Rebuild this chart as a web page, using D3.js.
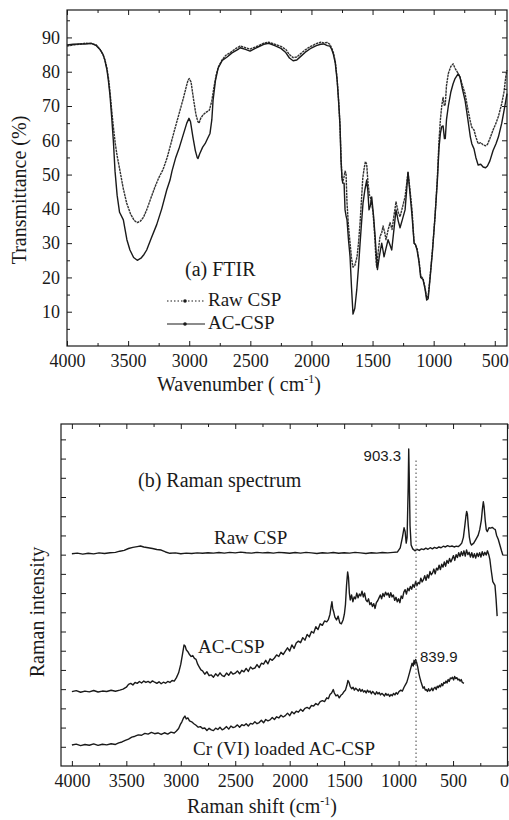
<!DOCTYPE html>
<html>
<head>
<meta charset="utf-8">
<script src="https://cdn.jsdelivr.net/npm/d3@7"></script>
<style>
  body { margin: 0; background: #fff; }
  svg text { font-family: "Liberation Serif", "Times New Roman", serif; fill: #1a1a1a; }
</style>
</head>
<body>
<svg id="chart" width="509" height="820"></svg>
<script>
// ---- FTIR data: [wavenumber cm-1, transmittance %] ----
const ftirRaw = [[4000,87.5],[3950,87.8],[3900,88.0],[3850,88.3],[3800,88.2],[3760,87.8],[3730,86.5],[3705,85],[3690,83.5],[3673,81],[3660,78],[3648,74],[3635,69],[3621,64],[3605,59],[3590,55.5],[3566,51],[3540,46],[3512,41.7],[3480,38.5],[3450,36.6],[3425,36],[3400,36.4],[3375,37.5],[3348,39.7],[3315,43],[3280,46.4],[3250,49],[3214,51.5],[3180,55],[3150,59],[3120,63],[3085,67.5],[3050,72],[3025,75.5],[3010,77.5],[3000,78],[2985,77],[2965,72],[2945,67.5],[2930,65.5],[2920,65],[2905,66.5],[2885,67.5],[2860,68.2],[2835,68.8],[2815,71.5],[2800,75],[2780,79],[2760,81.5],[2730,83.5],[2700,84.8],[2666,85.5],[2630,86.5],[2584,87.5],[2540,87],[2502,86.6],[2460,87.2],[2420,87.8],[2390,88.3],[2350,88.6],[2300,88],[2250,87.4],[2210,86.5],[2180,85],[2150,84.1],[2120,84.3],[2090,85.2],[2050,86.4],[2010,87.3],[1960,88.2],[1925,88.6],[1900,88.4],[1870,88.5],[1850,88],[1835,87],[1820,85.5],[1805,83],[1790,78],[1780,73],[1772,68],[1766,64],[1758,55],[1750,49],[1744,48],[1735,49],[1725,51],[1717,50.4],[1709,41.7],[1697,35],[1684,30],[1672,25.5],[1660,23],[1645,23.5],[1627,26],[1615,30],[1602,36],[1590,43],[1580,49],[1568,52],[1558,53.8],[1548,53],[1537,47.5],[1525,44],[1512,42.6],[1496,39],[1482,32],[1472,25],[1466,23],[1455,27],[1439,32],[1425,33],[1414,35],[1400,33],[1390,31],[1375,33.5],[1357,36],[1340,34],[1325,38],[1308,42],[1290,39],[1275,37.7],[1255,40.5],[1234,43.5],[1222,47],[1210,50.7],[1195,46],[1177,39.7],[1160,30],[1150,29.5],[1136,28.5],[1120,25],[1106,20.5],[1087,19.6],[1070,17],[1057,14],[1045,14.5],[1030,20],[1010,28],[989,37.7],[970,49],[956,60],[945,66],[934,70],[923,72.5],[912,70],[905,70.5],[895,76],[880,79.5],[860,81.5],[841,82.3],[825,81],[805,79.8],[785,78.5],[765,76],[743,73.6],[720,69],[700,65.5],[688,63.8],[670,63],[655,61],[636,59],[615,59.3],[595,58.7],[575,58.4],[560,58.8],[540,60.5],[514,63],[490,65],[470,67],[443,70.7],[425,74],[410,78.5],[400,80.5]];

const ftirAC = [[4000,87.8],[3950,88.0],[3900,88.1],[3850,88.1],[3800,88.3],[3760,87.6],[3730,86.5],[3705,85],[3690,83.3],[3673,80.5],[3660,77],[3648,73],[3635,67],[3621,60],[3607,51],[3590,44],[3570,39],[3539,36.8],[3510,31],[3485,28],[3455,25.8],[3425,25],[3395,25.6],[3370,26.7],[3348,28],[3310,31.5],[3266,35.4],[3225,40],[3184,45.5],[3157,48.4],[3141,51],[3110,55],[3080,58],[3050,61.5],[3020,65],[3002,66.4],[2990,65.5],[2970,61],[2950,57],[2935,55],[2928,54.7],[2915,56],[2890,58],[2870,59],[2850,60.5],[2830,62],[2815,66],[2805,71.6],[2785,77.5],[2764,81],[2730,83.3],[2690,84.3],[2650,85.5],[2600,86.5],[2584,87],[2540,86.5],[2502,86],[2460,86.8],[2420,87.5],[2390,88],[2350,88.3],[2300,87.6],[2250,86.8],[2210,85.6],[2180,84],[2150,83.2],[2120,83.4],[2090,84.4],[2050,85.7],[2010,86.7],[1960,87.6],[1925,88],[1900,88.1],[1870,87.6],[1850,87.5],[1835,86.6],[1820,85],[1805,82.5],[1790,77.5],[1780,72.5],[1772,68],[1766,64],[1758,54],[1750,49],[1744,47.5],[1733,47.5],[1725,39.7],[1717,38],[1709,36.8],[1697,31],[1684,26],[1672,17],[1660,9.3],[1645,11],[1629,16.5],[1615,23],[1602,30],[1590,36],[1578,41.7],[1563,45.5],[1548,48.4],[1538,45],[1529,39.7],[1518,41],[1507,43.5],[1492,38],[1479,32],[1470,27],[1460,22.3],[1445,26],[1425,30],[1415,28],[1406,26],[1390,28.5],[1373,31],[1358,29.5],[1343,28],[1325,34],[1308,39.7],[1290,36.5],[1275,34.5],[1255,37],[1234,39.7],[1222,45],[1210,50.7],[1195,45],[1177,38],[1160,30],[1150,29.7],[1136,28],[1120,24.5],[1106,20],[1087,19.4],[1070,16.5],[1057,13.4],[1045,13.8],[1030,19.5],[1010,27.5],[989,37.7],[970,48],[956,58],[945,62],[934,64],[923,64.2],[912,60.5],[905,60.5],[895,66],[880,70],[860,74],[841,76.5],[825,78],[800,79.4],[785,78.5],[765,75],[743,71.6],[720,66],[700,61],[688,59],[670,57.5],[655,55],[636,52.8],[615,53],[595,52.2],[575,52],[560,52.5],[540,54],[514,57],[490,59],[470,61],[443,65],[425,68.5],[410,71.5],[400,73.6]];

// ---- Raman data: [shift cm-1, intensity (offset, a.u.)] ----
const ramanRaw = [[4000,11.05],[3950,11.08],[3900,11.03],[3850,11.07],[3800,11.04],[3750,11.09],[3700,11.06],[3650,11.1],[3600,11.12],[3560,11.18],[3520,11.22],[3480,11.32],[3440,11.38],[3400,11.42],[3370,11.45],[3340,11.4],[3300,11.36],[3260,11.32],[3220,11.27],[3180,11.24],[3140,11.14],[3100,11.07],[3050,11.09],[3000,11.05],[2950,11.08],[2900,11.06],[2850,11.09],[2800,11.07],[2750,11.1],[2700,11.08],[2650,11.11],[2600,11.08],[2550,11.12],[2500,11.09],[2450,11.13],[2400,11.1],[2350,11.08],[2300,11.12],[2250,11.09],[2200,11.11],[2150,11.08],[2100,11.12],[2050,11.1],[2000,11.07],[1950,11.11],[1900,11.08],[1850,11.12],[1800,11.09],[1750,11.06],[1700,11.1],[1650,11.08],[1600,11.11],[1550,11.07],[1500,11.1],[1450,11.08],[1400,11.12],[1350,11.09],[1300,11.06],[1250,11.1],[1200,11.08],[1150,11.11],[1100,11.09],[1050,11.12],[1010,11.14],[985,11.35],[965,11.9],[950,12.4],[940,12.2],[930,11.6],[922,11.9],[912,14.5],[907,16.5],[902,15.0],[895,12.5],[885,11.5],[870,11.3],[850,11.2],[830,11.28],[810,11.22],[790,11.3],[770,11.26],[750,11.34],[730,11.28],[710,11.36],[690,11.3],[670,11.38],[650,11.33],[630,11.4],[610,11.36],[590,11.44],[570,11.4],[550,11.47],[530,11.42],[510,11.45],[490,11.4],[470,11.44],[450,11.42],[435,11.5],[420,11.6],[405,11.9],[392,12.5],[382,13.0],[375,13.25],[368,13.1],[360,12.5],[350,11.9],[340,11.6],[330,11.5],[310,11.6],[290,11.8],[270,12.0],[255,12.3],[240,12.8],[230,13.4],[222,13.75],[215,13.5],[205,12.8],[195,12.3],[185,12.2],[170,12.4],[155,12.38],[140,12.42],[125,12.35],[112,12.3],[100,12.0],[85,11.8],[70,11.5],[55,11.2],[43,10.98]];

const ramanAC = [[4000,3.87],[3960,3.92],[3920,3.84],[3880,3.9],[3840,3.86],[3800,3.93],[3760,3.85],[3720,3.9],[3680,3.88],[3640,3.94],[3600,3.89],[3560,3.95],[3530,4.0],[3500,4.1],[3480,4.25],[3460,4.3],[3440,4.22],[3420,4.35],[3400,4.3],[3380,4.4],[3360,4.32],[3340,4.42],[3320,4.35],[3300,4.4],[3280,4.33],[3260,4.43],[3240,4.36],[3220,4.3],[3200,4.38],[3180,4.28],[3160,4.36],[3140,4.31],[3120,4.4],[3100,4.35],[3080,4.45],[3060,4.42],[3040,4.6],[3020,4.85],[3000,5.3],[2985,5.8],[2970,6.3],[2960,6.25],[2950,6.05],[2935,5.95],[2920,5.8],[2905,5.7],[2890,5.75],[2875,5.6],[2860,5.55],[2845,5.3],[2830,5.15],[2815,5.0],[2800,4.95],[2780,4.78],[2760,4.9],[2740,4.7],[2720,4.74],[2700,4.62],[2680,4.8],[2660,4.68],[2640,4.85],[2620,4.7],[2600,4.66],[2580,4.84],[2560,4.72],[2540,4.9],[2520,4.78],[2500,4.83],[2480,4.95],[2460,4.8],[2440,4.98],[2420,4.9],[2400,5.08],[2380,4.92],[2360,5.15],[2340,5.05],[2320,5.1],[2300,5.28],[2280,5.12],[2260,5.35],[2240,5.3],[2220,5.5],[2200,5.32],[2180,5.58],[2160,5.5],[2140,5.62],[2120,5.78],[2100,5.7],[2080,5.92],[2060,5.8],[2040,5.98],[2020,6.15],[2000,5.98],[1980,6.3],[1960,6.12],[1940,6.4],[1920,6.5],[1900,6.42],[1880,6.68],[1860,6.55],[1840,6.85],[1820,6.72],[1800,7.0],[1780,6.92],[1760,7.25],[1740,7.1],[1720,7.4],[1700,7.32],[1680,7.55],[1660,7.5],[1645,7.62],[1630,7.9],[1620,8.3],[1612,8.55],[1605,8.2],[1595,8.0],[1585,7.75],[1570,7.6],[1555,7.8],[1540,7.45],[1525,7.4],[1510,7.6],[1498,7.9],[1488,8.4],[1478,9.4],[1468,10.1],[1460,9.8],[1452,9.0],[1444,8.64],[1432,8.9],[1420,8.55],[1408,8.8],[1396,8.7],[1384,9.0],[1372,8.75],[1360,8.95],[1348,8.85],[1336,9.1],[1324,8.8],[1312,9.0],[1300,8.65],[1288,8.55],[1276,8.7],[1264,8.4],[1252,8.5],[1240,8.3],[1228,8.45],[1216,8.2],[1204,8.5],[1192,8.6],[1180,8.75],[1168,8.9],[1156,8.7],[1144,8.98],[1132,8.82],[1120,9.05],[1108,8.9],[1096,9.0],[1084,8.78],[1072,9.02],[1060,8.8],[1048,8.9],[1036,8.62],[1024,8.78],[1012,8.55],[1000,8.7],[988,8.5],[976,8.85],[964,8.72],[952,9.05],[940,9.18],[928,8.95],[916,9.25],[904,9.12],[892,9.35],[880,9.2],[868,9.45],[856,9.3],[844,9.6],[832,9.38],[820,9.55],[808,9.48],[796,9.78],[784,9.58],[772,9.7],[760,9.9],[748,9.66],[736,9.95],[724,9.78],[712,10.12],[700,9.95],[688,10.05],[676,10.25],[664,10.0],[652,10.3],[640,10.2],[628,10.45],[616,10.22],[604,10.5],[592,10.35],[580,10.62],[568,10.4],[556,10.7],[544,10.55],[532,10.8],[520,10.62],[508,10.78],[496,10.95],[484,10.7],[472,11.0],[460,10.85],[448,11.1],[436,10.9],[424,11.15],[412,10.95],[400,11.2],[388,10.92],[376,11.25],[364,11.0],[352,11.12],[340,10.88],[328,11.1],[316,10.85],[304,11.05],[292,10.82],[280,11.08],[268,10.9],[256,11.1],[244,10.88],[232,11.15],[220,10.95],[208,11.12],[196,10.98],[184,11.2],[172,11.0],[162,10.75],[150,10.2],[135,9.6],[115,9.4],[105,8.7],[95,7.8]];

const ramanCr = [[4000,1.09],[3960,1.14],[3920,1.06],[3880,1.12],[3840,1.08],[3800,1.15],[3760,1.07],[3720,1.13],[3680,1.1],[3640,1.16],[3600,1.12],[3570,1.2],[3540,1.25],[3510,1.33],[3480,1.4],[3450,1.5],[3420,1.55],[3390,1.62],[3360,1.6],[3330,1.7],[3300,1.66],[3270,1.75],[3240,1.68],[3210,1.72],[3180,1.64],[3150,1.73],[3120,1.66],[3090,1.76],[3060,1.72],[3040,1.82],[3020,1.95],[3005,2.15],[2990,2.3],[2975,2.5],[2962,2.6],[2950,2.45],[2935,2.5],[2920,2.35],[2900,2.3],[2880,2.2],[2860,2.12],[2840,2.02],[2820,2.05],[2800,1.95],[2780,1.98],[2760,1.85],[2740,1.96],[2720,1.88],[2700,1.84],[2680,1.97],[2660,1.9],[2640,2.02],[2620,1.88],[2600,1.95],[2580,2.05],[2560,1.92],[2540,2.08],[2520,2.0],[2500,2.04],[2480,2.14],[2460,2.02],[2440,2.15],[2420,2.1],[2400,2.2],[2380,2.08],[2360,2.22],[2340,2.18],[2320,2.3],[2300,2.2],[2280,2.26],[2260,2.38],[2240,2.25],[2220,2.42],[2200,2.35],[2180,2.4],[2160,2.52],[2140,2.42],[2120,2.56],[2100,2.5],[2080,2.64],[2060,2.55],[2040,2.62],[2020,2.75],[2000,2.62],[1980,2.82],[1960,2.72],[1940,2.85],[1920,2.8],[1900,2.95],[1880,2.85],[1860,3.0],[1840,3.05],[1820,2.98],[1800,3.15],[1780,3.12],[1760,3.25],[1740,3.18],[1720,3.35],[1700,3.4],[1680,3.35],[1660,3.55],[1645,3.5],[1630,3.72],[1615,3.8],[1600,3.98],[1590,3.8],[1575,3.65],[1560,3.7],[1545,3.55],[1530,3.68],[1515,3.75],[1500,3.88],[1488,3.95],[1475,4.2],[1465,4.45],[1455,4.35],[1445,4.15],[1430,4.02],[1418,4.1],[1406,3.95],[1394,4.05],[1382,3.98],[1370,3.9],[1358,4.02],[1346,3.88],[1334,3.98],[1322,3.85],[1310,3.92],[1298,3.8],[1286,3.95],[1274,3.84],[1262,3.9],[1250,3.76],[1238,3.88],[1226,3.8],[1214,3.72],[1202,3.86],[1190,3.75],[1178,3.82],[1166,3.7],[1154,3.78],[1142,3.72],[1130,3.64],[1118,3.78],[1106,3.68],[1094,3.74],[1082,3.62],[1070,3.72],[1058,3.66],[1046,3.78],[1034,3.7],[1022,3.82],[1010,3.74],[998,3.86],[980,3.95],[965,3.9],[950,4.1],[938,4.22],[925,4.35],[912,4.6],[900,4.85],[888,5.1],[876,5.35],[866,5.2],[858,5.5],[850,5.3],[843,5.55],[835,5.4],[825,5.17],[815,4.85],[805,4.6],[795,4.4],[785,4.22],[775,4.05],[765,4.12],[755,3.95],[745,3.98],[735,3.88],[725,4.02],[715,3.9],[705,3.96],[695,4.06],[685,3.92],[675,4.05],[665,4.1],[655,3.98],[645,4.15],[635,4.08],[625,4.2],[615,4.12],[605,4.28],[595,4.18],[585,4.35],[575,4.3],[565,4.42],[555,4.32],[545,4.5],[535,4.4],[525,4.58],[515,4.55],[505,4.62],[495,4.48],[485,4.66],[475,4.55],[465,4.6],[455,4.48],[445,4.52],[435,4.42],[425,4.5],[415,4.35],[400,4.3]];

// ---- Ticks ----
const ftirXMajor = [4000, 3500, 3000, 2500, 2000, 1500, 1000, 500];
const ftirXMinor = [3750, 3250, 2750, 2250, 1750, 1250, 750];
const ftirYMajor = [10, 20, 30, 40, 50, 60, 70, 80, 90];
const ftirYMinor = [5, 15, 25, 35, 45, 55, 65, 75, 85, 95];
const ramanXMajor = [4000, 3500, 3000, 2500, 2000, 1500, 1000, 500, 0];
const ramanXMinor = [3750, 3250, 2750, 2250, 1750, 1250, 750, 250];
const ramanYTicks = [1, 2, 3, 4, 5, 6, 7, 8, 9, 10, 11, 12, 13, 14, 15, 16, 17];

// ---- Labels ----
const ftirSeries = ["Raw CSP", "AC-CSP"];
const ramanSeries = ["Raw CSP", "AC-CSP", "Cr (VI) loaded AC-CSP"];
const ramanPeaks = [{ label: "903.3", shift: 903.3, level: 15.88 }, { label: "839.9", shift: 839.9, level: 5.4 }];
const markerLine = { shift: 839.9, top: 15.9 };

const svg = d3.select("#chart");
const INK = "#1a1a1a";

// ---- Frame + inward ticks on all four sides ----
function frame(g, x, y, w, h, t) {
  g.append("rect").attr("width", w).attr("height", h)
    .attr("fill", "none").attr("stroke", INK).attr("stroke-width", 1.2);
  const put = (axis, tr, labels) => {
    const a = g.append("g").attr("transform", tr).style("color", INK).call(axis);
    a.select(".domain").remove();
    a.selectAll("line").attr("stroke-width", 1);
    a.selectAll("text").attr("font-size", labels ? 18 : 0);
    return a;
  };
  const xa = put(d3.axisBottom(x).tickValues(t.xMajor).tickSizeInner(-5).tickSizeOuter(0)
    .tickPadding(8).tickFormat(d3.format("d")), `translate(0,${h})`, true);
  // the last label sits on the right border; keep it inside the page
  xa.selectAll("text").filter(d => d === x.domain()[1]).attr("text-anchor", "end").attr("x", 1);
  put(d3.axisBottom(x).tickValues(t.xMinor).tickSizeInner(-3).tickSizeOuter(0).tickFormat(""), `translate(0,${h})`, false);
  put(d3.axisTop(x).tickValues(t.xMajor).tickSizeInner(-5).tickSizeOuter(0).tickFormat(""), "translate(0,0)", false);
  put(d3.axisTop(x).tickValues(t.xMinor).tickSizeInner(-3).tickSizeOuter(0).tickFormat(""), "translate(0,0)", false);
  put(d3.axisLeft(y).tickValues(t.yMajor).tickSizeInner(-5).tickSizeOuter(0).tickPadding(7)
    .tickFormat(t.yLabels ? d3.format("d") : ""), "translate(0,0)", t.yLabels);
  put(d3.axisRight(y).tickValues(t.yMajor).tickSizeInner(-5).tickSizeOuter(0).tickFormat(""), `translate(${w},0)`, false);
  if (t.yMinor) {
    put(d3.axisLeft(y).tickValues(t.yMinor).tickSizeInner(-3).tickSizeOuter(0).tickFormat(""), "translate(0,0)", false);
    put(d3.axisRight(y).tickValues(t.yMinor).tickSizeInner(-3).tickSizeOuter(0).tickFormat(""), `translate(${w},0)`, false);
  }
}

function text(g, x, y, str, size, anchor) {
  return g.append("text").attr("x", x).attr("y", y)
    .attr("font-size", size).attr("text-anchor", anchor || "start").text(str);
}

function curve(g, line, data, dash, width) {
  g.append("path").datum(data)
    .attr("d", line).attr("fill", "none")
    .attr("stroke", dash ? "#333" : INK)
    .attr("stroke-width", width || 1.3)
    .attr("stroke-dasharray", dash || null)
    .attr("stroke-linejoin", "round");
}

// ================= (a) FTIR =================
{
  const W = 440, H = 336;
  const g = svg.append("g").attr("transform", "translate(67,10)");
  const x = d3.scaleLinear().domain([4000, 400]).range([0, W]);
  const y = d3.scaleLinear().domain([0, 98]).range([H, 0]);
  const line = d3.line().x(d => x(d[0])).y(d => y(d[1]));

  curve(g, line, ftirRaw, "2.5,0.7", 1.4);
  curve(g, line, ftirAC, null, 1.4);
  frame(g, x, y, W, H, { xMajor: ftirXMajor, xMinor: ftirXMinor, yMajor: ftirYMajor, yMinor: ftirYMinor, yLabels: true });

  text(g, 118, 266, "(a) FTIR", 20);

  // legend
  ftirSeries.forEach((name, i) => {
    const ly = 291 + i * 23;
    g.append("line").attr("x1", 100).attr("x2", 138).attr("y1", ly).attr("y2", ly)
      .attr("stroke", INK).attr("stroke-width", 1.2)
      .attr("stroke-dasharray", i === 0 ? "1.5,2" : null);
    g.append("circle").attr("cx", 118).attr("cy", ly).attr("r", 1.8).attr("fill", INK);
    text(g, 141, ly + 5, name, 19);
  });

  const xl = svg.append("text").attr("x", 157).attr("y", 391).attr("font-size", 20);
  xl.append("tspan").text("Wavenumber ( cm");
  xl.append("tspan").attr("font-size", 12).attr("dy", -8).text("-1");
  xl.append("tspan").attr("dy", 8).text(")");
  svg.append("text").attr("transform", "translate(26,190) rotate(-90)")
    .attr("text-anchor", "middle").attr("font-size", 20).text("Transmittance (%)");
}

// ================= (b) Raman =================
{
  const W = 446.5, H = 342;
  const g = svg.append("g").attr("transform", "translate(61,424)");
  const x = d3.scaleLinear().domain([4100, 0]).range([0, W]);
  const y = d3.scaleLinear().domain([0, 17.8]).range([H, 0]);
  const line = d3.line().x(d => x(d[0])).y(d => y(d[1]));

  [ramanRaw, ramanAC, ramanCr].forEach(d => curve(g, line, d, null, 1.4));

  g.append("line")
    .attr("x1", x(markerLine.shift)).attr("x2", x(markerLine.shift))
    .attr("y1", y(markerLine.top)).attr("y2", H)
    .attr("stroke", "#555").attr("stroke-width", 1.1).attr("stroke-dasharray", "1.5,2.5");

  frame(g, x, y, W, H, { xMajor: ramanXMajor, xMinor: ramanXMinor, yMajor: ramanYTicks, yLabels: false });

  // peak labels (sans-serif, as in the figure)
  ramanPeaks.forEach((p, i) => {
    text(g, x(p.shift) + (i === 0 ? -8 : 4), y(p.level), p.label, 15, i === 0 ? "end" : "start")
      .style("font-family", "'Liberation Sans', Arial, sans-serif");
  });

  text(g, 77, 63, "(b) Raman spectrum", 20);
  text(g, 153, 120, ramanSeries[0], 19);
  text(g, 137, 229, ramanSeries[1], 19);
  text(g, 132, 331, ramanSeries[2], 19);

  const xl = svg.append("text").attr("x", 187).attr("y", 813).attr("font-size", 20);
  xl.append("tspan").text("Raman shift (cm");
  xl.append("tspan").attr("font-size", 12).attr("dy", -8).text("-1");
  xl.append("tspan").attr("dy", 8).text(")");
  svg.append("text").attr("transform", "translate(44,612) rotate(-90)")
    .attr("text-anchor", "middle").attr("font-size", 20).text("Raman intensity");
}
</script>
</body>
</html>
